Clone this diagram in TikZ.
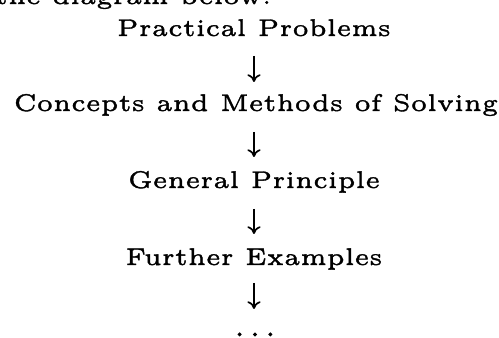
\documentclass[tikz,border=0pt]{standalone}
\usetikzlibrary{arrows.meta}
\font\scanfont="[lmroman5-regular.otf]:embolden=1.5" at 4.73pt
\font\scandots="[lmroman5-regular.otf]:embolden=3.5" at 4.9pt
\begin{document}
\begin{tikzpicture}[x=0.19646pt,y=-0.19646pt,
  txt/.style={inner sep=0pt, anchor=base, font=\scanfont,
    text height=3.93pt, text depth=1.18pt},
  arr/.style={line width=0.33pt, -{Computer Modern Rightarrow[length=1.5pt,width=2.6pt]}}]
\useasboundingbox (0,0) rectangle (499,338);
\clip (0,0) rectangle (499,338);
\node[txt, anchor=base west] (intro) at (-6,4) {the diagram below:};
\node[txt] (pp) at (254,36) {Practical Problems};
\node[txt] (cms) at (256,111) {Concepts and Methods of Solving};
\node[txt] (gp) at (254,188) {General Principle};
\node[txt] (fe) at (254,265) {Further Examples};
\node[txt, font=\scandots] (dots) at (255,336) {.\kern1.05pt.\kern1.05pt.};
\draw[arr, shorten <=2.55pt, shorten >=1.57pt] (pp.south) -- (pp.south |- cms.north);
\draw[arr, shorten <=2.75pt, shorten >=1.96pt] (pp.south |- cms.south) -- (pp.south |- gp.north);
\draw[arr, shorten <=2.75pt, shorten >=1.96pt] (pp.south |- gp.south) -- (pp.south |- fe.north);
\draw[arr, shorten <=2.16pt, shorten >=1.18pt] (pp.south |- fe.south) -- (pp.south |- dots.north);
\end{tikzpicture}
\end{document}
